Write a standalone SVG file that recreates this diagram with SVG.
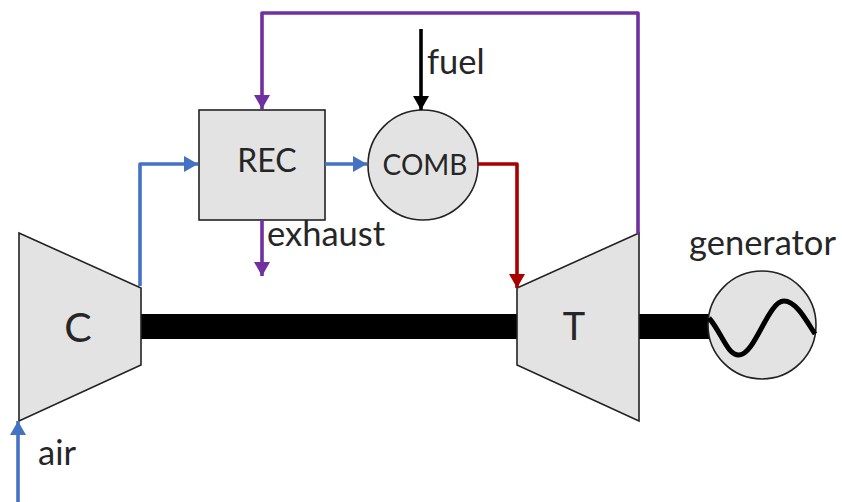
<svg xmlns="http://www.w3.org/2000/svg" width="842" height="502" viewBox="0 0 842 502">
<style>
text{font-family:"Lato","Open Sans","Liberation Sans",sans-serif;fill:#262626;text-anchor:middle}
.n{fill:#e3e3e3;stroke:#222;stroke-width:1.6}
.c{fill:none;stroke-width:3.6;stroke-linejoin:round}
.l{font-size:34.5px;text-anchor:start}
</style>
<defs>
<marker id="ab" markerUnits="userSpaceOnUse" markerWidth="15" markerHeight="16" refX="14" refY="8" orient="auto"><path d="M0 0L14 8L0 16Z" fill="#4472c4"/></marker>
<marker id="ap" markerUnits="userSpaceOnUse" markerWidth="15" markerHeight="16" refX="14" refY="8" orient="auto"><path d="M0 0L14 8L0 16Z" fill="#7030a0"/></marker>
<marker id="ar" markerUnits="userSpaceOnUse" markerWidth="15" markerHeight="16" refX="14" refY="8" orient="auto"><path d="M0 0L14 8L0 16Z" fill="#a80000"/></marker>
<marker id="ak" markerUnits="userSpaceOnUse" markerWidth="15" markerHeight="16" refX="14" refY="8" orient="auto"><path d="M0 0L14 8L0 16Z" fill="#000"/></marker>
</defs>
<rect width="842" height="502" fill="#fff"/>
<g id="shafts" fill="#000"><rect x="141" y="314" width="377" height="25"/><rect x="639" y="314" width="71" height="25"/></g>
<g id="compressor"><path class="n" d="M19 233L141 288V365L19 421Z"/><text x="78" y="342" font-size="41">C</text></g>
<g id="turbine"><path class="n" d="M639 233L517 288V365L639 421Z"/><text x="574" y="340" font-size="38">T</text></g>
<g id="rec"><rect class="n" x="199" y="110" width="126" height="110"/><text x="267" y="172" font-size="32">REC</text></g>
<g id="comb"><circle class="n" cx="423" cy="165" r="55"/><text x="425" y="175" font-size="28">COMB</text></g>
<g id="generator"><circle class="n" cx="762" cy="325" r="54"/><path d="M709 318C722 333 727 355 739 355C755 355 768 301 784 301C796 301 806 320 815 334" fill="none" stroke="#000" stroke-width="5"/></g>
<g id="connectors">
<path class="c" stroke="#4472c4" marker-end="url(#ab)" d="M18 502V421"/>
<path class="c" stroke="#4472c4" marker-end="url(#ab)" d="M140 286V164H198"/>
<path class="c" stroke="#4472c4" marker-end="url(#ab)" d="M325 164H367"/>
<path class="c" stroke="#7030a0" marker-end="url(#ap)" d="M638 234V13H262V109"/>
<path class="c" stroke="#7030a0" marker-end="url(#ap)" d="M262 220V276"/>
<path class="c" stroke="#000" marker-end="url(#ak)" d="M421 29V110"/>
<path class="c" stroke="#a80000" marker-end="url(#ar)" d="M478 164H517V288"/>
</g>
<g id="labels">
<text class="l" x="427" y="74">fuel</text>
<text class="l" x="267" y="246">exhaust</text>
<text class="l" x="689" y="255">generator</text>
<text class="l" x="38" y="465">air</text>
</g>
</svg>
